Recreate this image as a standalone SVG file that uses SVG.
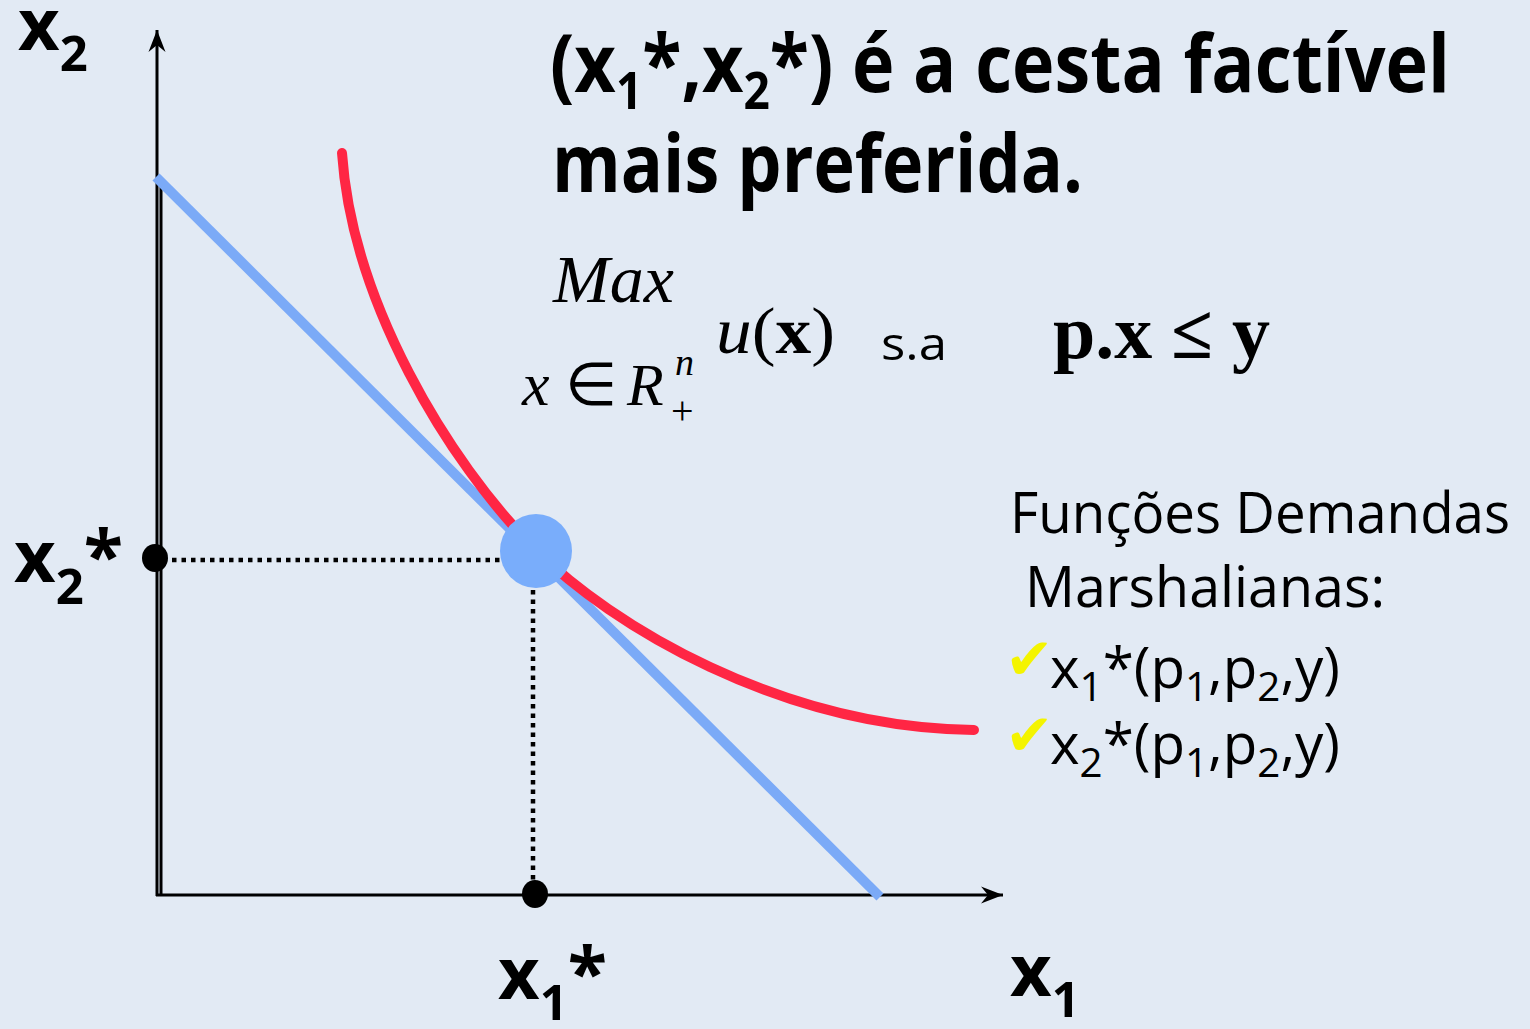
<svg xmlns="http://www.w3.org/2000/svg" width="1530" height="1029" viewBox="0 0 1530 1029">
<style>
.sans{font-family:"Open Sans","Liberation Sans",sans-serif;fill:#000}
.b{font-weight:bold}
.serif{font-family:"Liberation Serif","Times New Roman",serif;fill:#000}
.it{font-style:italic}
.dot{stroke:#000;stroke-width:4.5;stroke-dasharray:4.5 5;fill:none}
.axis{stroke:#000;stroke-width:3;fill:none}
.chk{font-family:"DejaVu Sans",sans-serif;fill:#F4F400;font-size:58px}
</style>
<defs>
<marker id="arr" viewBox="-24 -10 26 20" markerWidth="26" markerHeight="20" refX="0" refY="0" orient="auto" markerUnits="userSpaceOnUse">
<path d="M0,0 L-22,-8.5 L-15,0 L-22,8.5 Z" fill="#000"/>
</marker>
</defs>
<rect width="1530" height="1029" fill="#E2EAF4"/>

<g id="axes">
<line class="axis" x1="157" y1="896" x2="157" y2="30" marker-end="url(#arr)"/>
<line class="axis" x1="161" y1="182" x2="161" y2="896" stroke-width="2"/>
<line class="axis" x1="156" y1="895" x2="1003" y2="895" marker-end="url(#arr)"/>
</g>

<g id="budget-line">
<line x1="156" y1="177" x2="880" y2="897" stroke="#7BAAF7" stroke-width="10"/>
</g>

<g id="indifference-curve">
<path d="M342,153 C352,300 446,460 536,550 C610,624 780,728 974,730" fill="none" stroke="#FF2644" stroke-width="10" stroke-linecap="round"/>
</g>

<g id="connectors">
<line class="dot" x1="172" y1="560" x2="500" y2="560"/>
<line class="dot" x1="533" y1="590" x2="533" y2="882"/>
</g>

<g id="optimum">
<ellipse cx="536" cy="551" rx="36" ry="37" fill="#79ADFB"/>
</g>
<g id="x2-dot"><ellipse cx="155" cy="558" rx="13" ry="14" fill="#000"/></g>
<g id="x1-dot"><ellipse cx="535" cy="894" rx="13" ry="14" fill="#000"/></g>

<g id="axis-labels">
<text class="sans b" x="18" y="50" font-size="72">x<tspan font-size="49" dy="21">2</tspan></text>
<text class="sans b" x="14" y="582" font-size="72">x<tspan font-size="49" dy="22">2</tspan><tspan dy="-22">*</tspan></text>
<text class="sans b" x="498" y="999" font-size="72">x<tspan font-size="49" dy="21">1</tspan><tspan dy="-21">*</tspan></text>
<text class="sans b" x="1010" y="996" font-size="72">x<tspan font-size="49" dy="21">1</tspan></text>
</g>

<g id="title">
<text class="sans b" x="550" y="92" font-size="81" textLength="900" lengthAdjust="spacingAndGlyphs">(x<tspan font-size="52" dy="17">1</tspan><tspan dy="-17">*,x</tspan><tspan font-size="52" dy="17">2</tspan><tspan dy="-17">*) é a cesta factível</tspan></text>
<text class="sans b" x="552" y="192" font-size="81" textLength="531" lengthAdjust="spacingAndGlyphs">mais preferida.</text>
</g>

<g id="problem">
<text class="serif it" x="553" y="302" font-size="68">Max</text>
<text class="serif it" x="522" y="405" font-size="62">x</text>
<text class="serif" x="565" y="405" font-size="60">∈</text>
<text class="serif it" x="627" y="405" font-size="60">R</text>
<text class="serif it" x="675" y="375" font-size="38">n</text>
<text class="serif" x="671" y="424" font-size="40">+</text>
<text class="serif" x="716" y="353" font-size="66" textLength="119" lengthAdjust="spacingAndGlyphs"><tspan font-style="italic">u</tspan>(<tspan font-weight="bold">x</tspan>)</text>
<text class="sans" x="881" y="360" font-size="46" textLength="66" lengthAdjust="spacingAndGlyphs">s.a</text>
<text class="serif b" x="1053" y="358" font-size="76" textLength="217" lengthAdjust="spacingAndGlyphs">p.x ≤ y</text>
</g>

<g id="demand-functions">
<text class="sans" x="1010" y="533" font-size="56" textLength="500" lengthAdjust="spacingAndGlyphs">Funções Demandas</text>
<text class="sans" x="1025" y="607" font-size="56" textLength="360" lengthAdjust="spacingAndGlyphs">Marshalianas:</text>
<text class="chk" x="1005" y="679">✔</text>
<text class="sans" x="1050" y="688" font-size="56" textLength="290" lengthAdjust="spacingAndGlyphs">x<tspan font-size="40" dy="13">1</tspan><tspan dy="-13">*(p</tspan><tspan font-size="40" dy="13">1</tspan><tspan dy="-13">,p</tspan><tspan font-size="40" dy="13">2</tspan><tspan dy="-13">,y)</tspan></text>
<text class="chk" x="1005" y="755">✔</text>
<text class="sans" x="1050" y="764" font-size="56" textLength="290" lengthAdjust="spacingAndGlyphs">x<tspan font-size="40" dy="13">2</tspan><tspan dy="-13">*(p</tspan><tspan font-size="40" dy="13">1</tspan><tspan dy="-13">,p</tspan><tspan font-size="40" dy="13">2</tspan><tspan dy="-13">,y)</tspan></text>
</g>
</svg>
